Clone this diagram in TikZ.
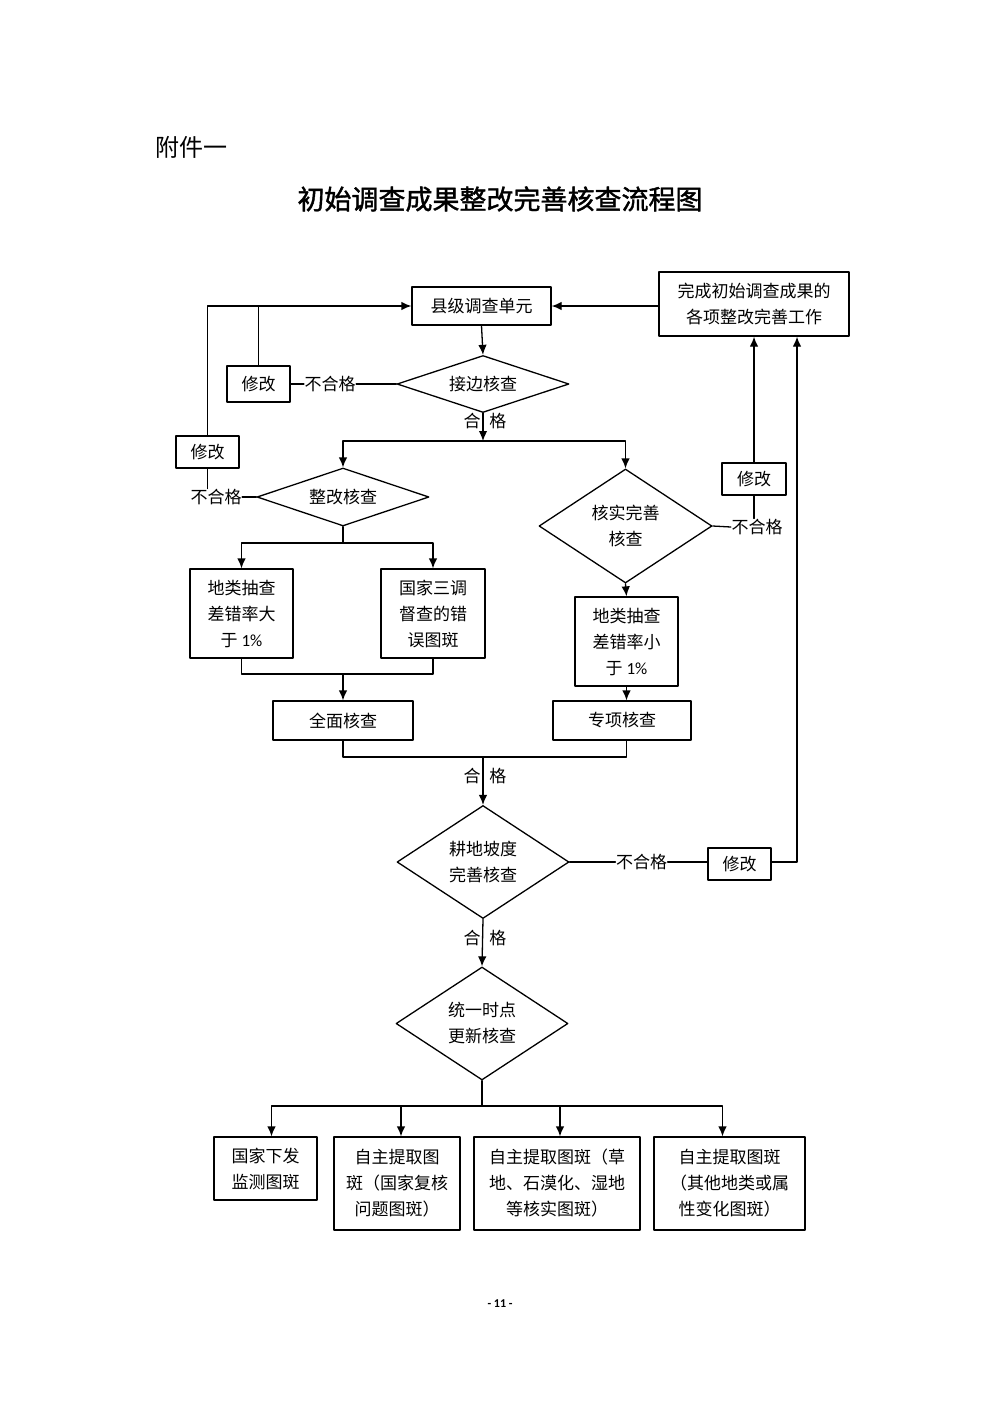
\documentclass[tikz,border=0pt]{standalone}
\usepackage{fontspec}
\setmainfont{Noto Sans CJK SC}
\newfontfamily\titlefont{Noto Sans CJK SC}[FakeBold=1.5]
\newfontfamily\latin{Carlito}
\usetikzlibrary{arrows.meta,shapes.geometric}

\begin{document}
\begin{tikzpicture}[x=1pt,y=-1pt,line cap=round,line join=round,>={Latex[length=10pt,width=8.5pt]},
  every node/.style={font=\fontsize{17}{26}\selectfont},
  rbox/.style={draw,line width=1.3pt,align=center,inner sep=0pt},
  dbox/.style={draw,diamond,line width=1.3pt,align=center,inner sep=0pt},
  lab/.style={inner sep=0pt},
  hg/.style={inner sep=0pt}]
\fill[white] (0,0) rectangle (1000,1414);
\useasboundingbox (0,0) rectangle (1000,1414);
\begin{scope}[line width=1.3pt]
% heading
\node (fj) at (191.5,147) {\fontsize{24}{28}\selectfont 附件一};
\node (title) at (500,199) {\titlefont\fontsize{27}{32}\selectfont 初始调查成果整改完善核查流程图};
% first row
\node[rbox,minimum width=139,minimum height=38] (xj) at (481.5,306) {县级调查单元};
\node[rbox,minimum width=190,minimum height=64] (wc) at (754,304) {完成初始调查成果的\\各项整改完善工作};
\node[dbox,aspect=3,minimum width=172,minimum height=57] (jb) at (483,384) {接边核查};
\node[rbox,minimum width=63,minimum height=36] (xg1) at (258.5,384) {修改};
\node[lab] (ng1) at (330,384) {不合格};
\node[hg] (hg1) at (485,421) {合\hspace{9pt}格};
\coordinate (j1) at (483,441);
% second row
\node[rbox,minimum width=63,minimum height=32] (xg2) at (207.5,452) {修改};
\node[lab] (ng2) at (216,497) {不合格};
\node[dbox,aspect=3,minimum width=172,minimum height=58] (zg) at (343,497) {整改核查};
\node[dbox,aspect=1.5,minimum width=173,minimum height=114] (hs) at (625.5,526) {核实完善\\核查};
\node[rbox,minimum width=64,minimum height=32] (xg3) at (754,479) {修改};
\node[lab] (ng3) at (757,527) {不合格};
\coordinate (j2) at (343,543);
% third row
\node[rbox,minimum width=103,minimum height=89] (dl1) at (241.5,613.5) {地类抽查\\差错率大\\于 {\latin 1\%}};
\node[rbox,minimum width=104,minimum height=89] (gj) at (433,613.5) {国家三调\\督查的错\\误图斑};
\node[rbox,minimum width=103,minimum height=89] (dl2) at (626.5,641.5) {地类抽查\\差错率小\\于 {\latin 1\%}};
\coordinate (j3) at (343,674);
\node[rbox,minimum width=140,minimum height=39] (qm) at (343,720.5) {全面核查};
\node[rbox,minimum width=138,minimum height=39] (zx) at (622,720.5) {专项核查};
\coordinate (j4) at (483,757);
\node[hg] (hg2) at (485,776) {合\hspace{9pt}格};
% fourth row
\node[dbox,aspect=1.5,minimum width=172,minimum height=113] (gd) at (483,862) {耕地坡度\\完善核查};
\node[lab] (ng4) at (641.5,862) {不合格};
\node[rbox,minimum width=63,minimum height=32] (xg4) at (739.5,864) {修改};
\node[hg] (hg3) at (485,938) {合\hspace{9pt}格};
\node[dbox,aspect=1.5,minimum width=172,minimum height=113] (tg) at (482,1023.5) {统一时点\\更新核查};
\coordinate (j5) at (482,1106);
\node[rbox,minimum width=103,minimum height=63] (b1) at (265.5,1168.5) {国家下发\\监测图斑};
\node[rbox,minimum width=126,minimum height=93] (b2) at (397,1183.5) {自主提取图\\斑（国家复核\\问题图斑）};
\node[rbox,minimum width=166,minimum height=93] (b3) at (557,1183.5) {自主提取图斑（草\\地、石漠化、湿地\\等核实图斑）};
\node[rbox,minimum width=151,minimum height=93] (b4) at (729.5,1183.5) {自主提取图斑\\（其他地类或属\\性变化图斑）};
\node (pn) at (500,1304) {\latin\bfseries\fontsize{12}{14}\selectfont - 11 -};
% connectors
\draw[->] (xj.south) -- (jb.north);
\draw[->] (wc.west |- xj.east) -- (xj.east);
\draw (jb.west) -- (ng1.east);
\draw (ng1.west) -- (xg1.east);
\draw (xg1.north) -- (xg1.north |- xj.west);
\draw[->] (xg2.north) |- (xj.west);
\draw[->] (jb.south) -- (j1);
\draw[->] (j1) -| (zg.north);
\draw[->] (j1) -| (hs.north);
\draw (zg.west) -- (ng2.east);
\draw (xg2.south) -- (xg2.south |- ng2.north);
\draw (hs.east) -- (ng3.west);
\draw (xg3.south) -- (xg3.south |- ng3.north);
\draw[->] (xg3.north) -- (wc.south);
\draw (zg.south) -- (j2);
\draw[->] (j2) -| (dl1.north);
\draw[->] (j2) -| (gj.north);
\draw (dl1.south) |- (j3) -| (gj.south);
\draw[->] (j3) -- (qm.north);
\draw[->] (hs.south) -- (dl2.north);
\draw[->] (dl2.south) -- (dl2.south |- zx.north);
\draw (qm.south) |- (j4) -| (dl2.south |- zx.south);
\draw[->] (j4) -- (gd.north);
\draw (gd.east) -- (ng4.west);
\draw (ng4.east) -- (xg4.west |- ng4.east);
\draw[->] (xg4.east |- ng4.east) -| ([xshift=43pt]wc.south);
\draw[->] (gd.south) -- (tg.north);
\draw (tg.south) -- (j5);
\draw[->] (j5) -| ([xshift=6pt]b1.north);
\draw[->] (j5) -| ([xshift=4pt]b2.north);
\draw[->] (j5) -| ([xshift=3pt]b3.north);
\draw[->] (j5) -| ([xshift=-7pt]b4.north);
\end{scope}
\end{tikzpicture}
\end{document}
